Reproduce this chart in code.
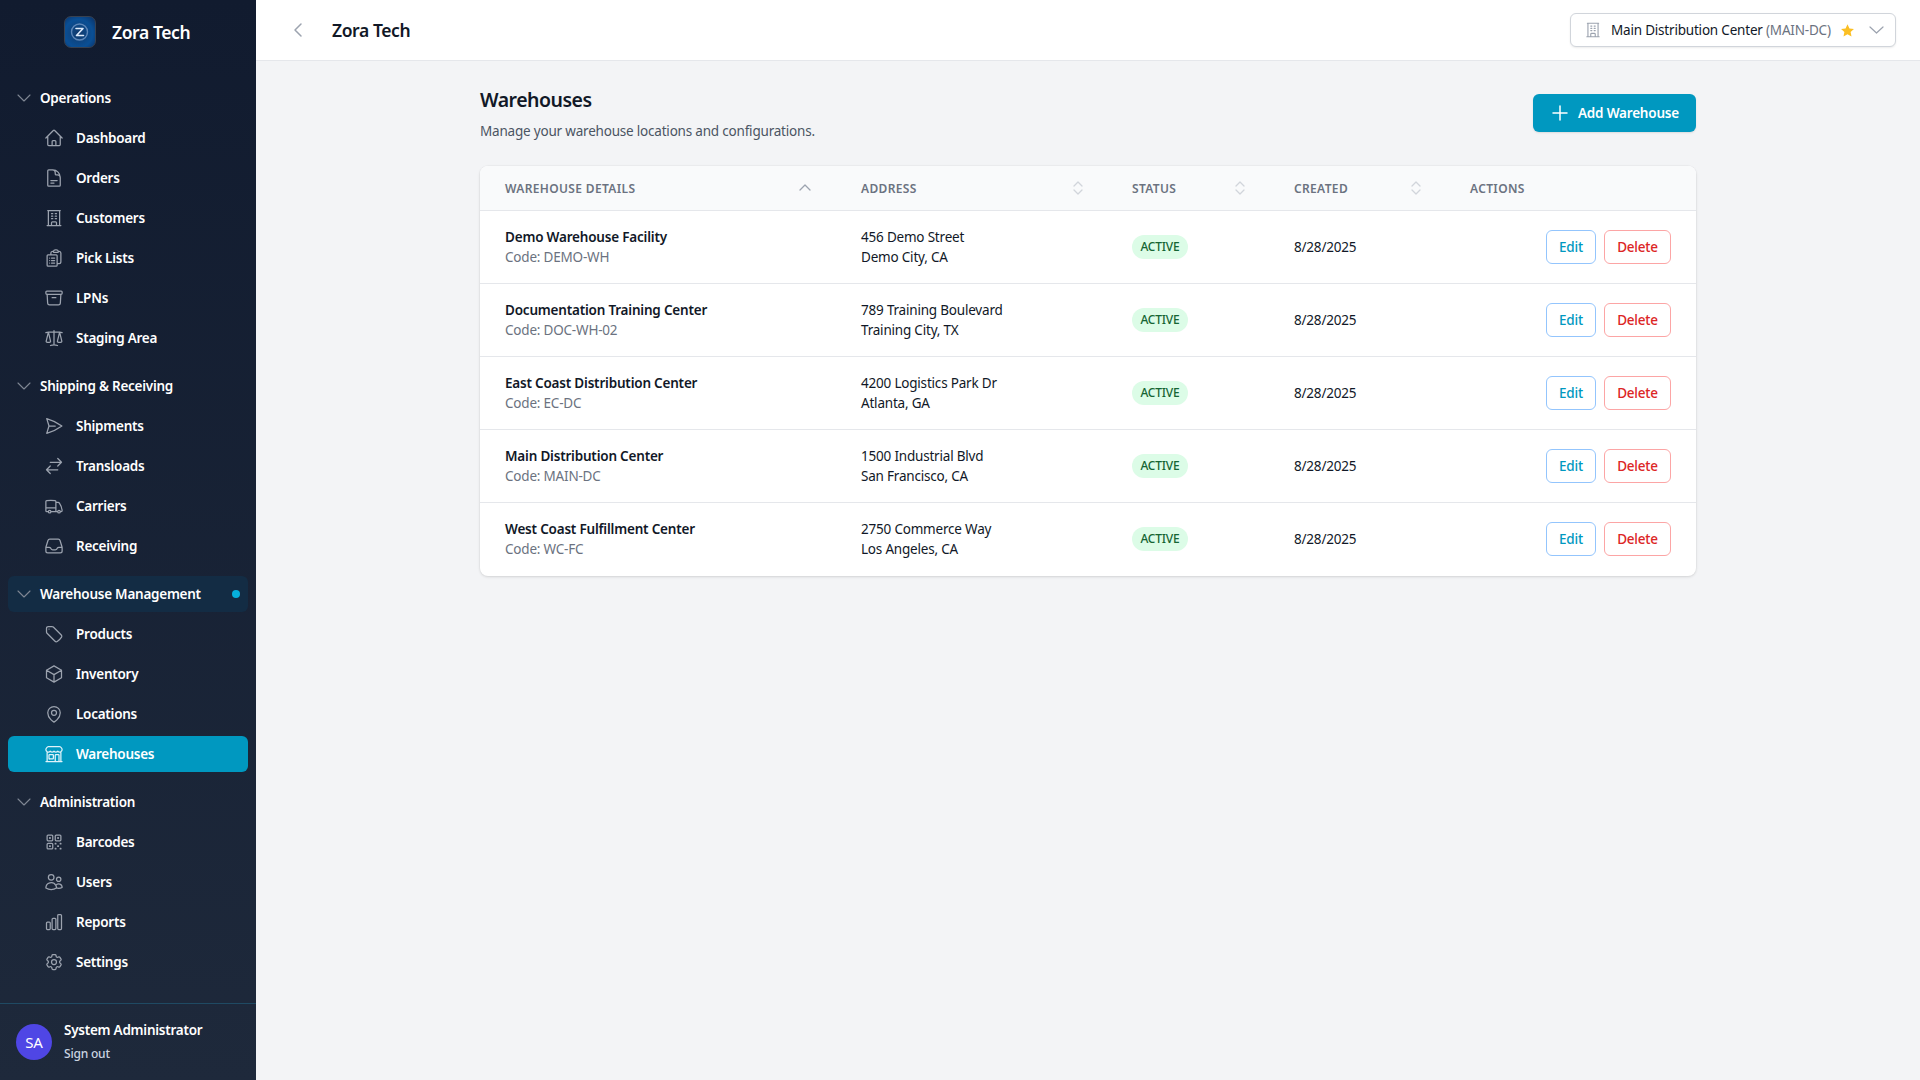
<!DOCTYPE html>
<html>
<head>
<meta charset="utf-8">
<title>Zora Tech</title>
<script src="https://cdn.jsdelivr.net/npm/chart.js@4"></script>
<style>
  * { box-sizing: border-box; }
  html, body { margin: 0; width: 1920px; height: 1080px; overflow: hidden; background: #f3f4f6; font-family: "Noto Sans", sans-serif; font-size: 13.5px; letter-spacing: -.2px; color: #111827; }
  svg { display: block; fill: none; stroke: currentColor; stroke-width: 1.5; stroke-linecap: round; stroke-linejoin: round; }

  /* ---- sidebar ---- */
  #side { position: absolute; left: 0; top: 0; width: 256px; height: 1080px; background: linear-gradient(180deg, #111b2f 0%, #1e293b 100%); color: #fff; }
  #logo { position: absolute; left: 64px; top: 16px; width: 32px; height: 32px; border-radius: 7px; border: 1.5px solid #374151; background: radial-gradient(circle at 45% 55%, #123a6c 0%, #0a4f95 60%, #0a2f63 100%); overflow: hidden; }
  #logo svg { width: 29px; height: 29px; }
  #brand { position: absolute; left: 112px; top: 19px; font-size: 17.5px; font-weight: 600; letter-spacing: -.4px; line-height: 26px; }
  #nav { position: absolute; left: 8px; top: 80px; width: 240px; }
  .sec { position: relative; height: 36px; line-height: 36px; padding-left: 32px; font-weight: 600; letter-spacing: -.25px; border-radius: 6px; margin-top: 12px; }
  .sec:first-child { margin-top: 0; }
  .sec.on { background: #132c44; }
  .sec svg { position: absolute; left: 9px; top: 13px; width: 14px; height: 10px; color: #7f8794; stroke-width: 1.1; }
  .sec i { position: absolute; right: 8px; top: 14px; width: 8px; height: 8px; border-radius: 50%; background: #06b0dc; }
  .item { position: relative; height: 36px; line-height: 36px; margin-top: 4px; padding-left: 68px; font-weight: 600; letter-spacing: -.25px; border-radius: 6px; }
  .item svg { position: absolute; left: 36px; top: 8px; width: 20px; height: 20px; color: #9ca3af; }
  .item.on { background: #0098c0; }
  .item.on svg { color: #dff3fa; }
  #userline { position: absolute; left: 0; top: 1003px; width: 256px; border-top: 1px solid #1f4a63; }
  #avatar { position: absolute; left: 16px; top: 1024px; width: 36px; height: 36px; border-radius: 50%; background: #4f46e5; text-align: center; line-height: 36px; font-size: 15px; }
  #uname { position: absolute; left: 64px; top: 1020px; font-weight: 600; letter-spacing: -.25px; line-height: 20px; }
  #signout { position: absolute; left: 64px; top: 1045px; font-size: 12px; font-weight: 500; line-height: 18px; color: #cbd5e1; }

  /* ---- top bar ---- */
  #top { position: absolute; left: 256px; top: 0; width: 1664px; height: 61px; background: #fff; border-bottom: 1px solid #e5e7eb; }
  #back { position: absolute; left: 35px; top: 22px; width: 14px; height: 16px; color: #9ca3af; }
  #crumb { position: absolute; left: 76px; top: 17px; font-size: 17.5px; font-weight: 600; letter-spacing: -.4px; line-height: 26px; }
  #picker { position: absolute; left: 1314px; top: 13px; width: 326px; height: 34px; background: #fff; border: 1px solid #d1d5db; border-radius: 6px; box-shadow: 0 1px 2px rgba(0,0,0,.08); line-height: 32px; }
  #picker svg.b { position: absolute; left: 13px; top: 7px; width: 18px; height: 18px; color: #9ca3af; }
  #picker span { position: absolute; left: 40px; top: 0; white-space: nowrap; }
  #picker span em { font-style: normal; color: #6b7280; }
  #picker svg.s { position: absolute; left: 269px; top: 9px; width: 15px; height: 15px; fill: #fbbf24; stroke: none; }
  #picker svg.c { position: absolute; left: 298px; top: 11px; width: 15px; height: 10px; color: #9ca3af; stroke-width: 1.2; }

  /* ---- page head ---- */
  #h1 { position: absolute; left: 480px; top: 86px; font-size: 19.5px; font-weight: 600; letter-spacing: -.5px; line-height: 28px; }
  #sub { position: absolute; left: 480px; top: 121px; line-height: 20px; color: #4b5563; }
  #add { position: absolute; left: 1533px; top: 94px; width: 163px; height: 38px; border-radius: 6px; background: #0098c0; color: #fff; font-weight: 600; line-height: 38px; box-shadow: 0 1px 2px rgba(0,0,0,.1); }
  #add svg { position: absolute; left: 19px; top: 11px; width: 16px; height: 16px; stroke-width: 1.5; }
  #add span { position: absolute; left: 45px; top: 0; white-space: nowrap; }

  /* ---- table ---- */
  #card { position: absolute; left: 480px; top: 166px; width: 1216px; height: 410px; background: #fff; border-radius: 8px; box-shadow: 0 1px 3px rgba(0,0,0,.12), 0 0 0 1px rgba(0,0,0,.02); overflow: hidden; }
  #head { position: absolute; left: 0; top: 0; width: 100%; height: 45px; background: #f9fafb; border-bottom: 1px solid #e5e7eb; }
  .th { position: absolute; top: 1px; line-height: 44px; font-size: 12px; font-weight: 600; letter-spacing: .35px; color: #6b7280; white-space: nowrap; }
  .sort { position: absolute; top: 14px; width: 12px; height: 16px; color: #d1d5db; stroke-width: 1.3; }
  .row { position: absolute; left: 0; width: 100%; height: 73px; border-bottom: 1px solid #e5e7eb; }
  .row:last-child { border-bottom: none; }
  .cell { position: absolute; white-space: nowrap; line-height: 20px; }
  .name { font-weight: 600; }
  .code { color: #6b7280; }
  .badge { position: absolute; left: 652px; top: 24px; width: 56px; height: 24px; border-radius: 12px; background: #dcfce7; color: #166534; font-size: 12px; font-weight: 500; text-align: center; line-height: 24px; }
  .btn { position: absolute; top: 19px; height: 34px; border-radius: 6px; background: #fff; border: 1px solid; text-align: center; line-height: 32px; font-weight: 500; }
  .edit { left: 1066px; width: 50px; border-color: #93c5fd; color: #0098c0; }
  .del { left: 1124px; width: 67px; border-color: #fca5a5; color: #dc2626; }
</style>
</head>
<body>
<div id="side">
  <div id="logo"><svg viewBox="0 0 29 29"><circle cx="14.5" cy="15" r="8" stroke="#5d86b8" stroke-width="1.4"/><path d="M11 11.5h7l-6.5 7h7" stroke="#dbe9fb" stroke-width="1.6"/></svg></div>
  <div id="brand"></div>
  <div id="nav"></div>
  <div id="userline"></div>
  <div id="avatar"></div>
  <div id="uname"></div>
  <div id="signout"></div>
</div>
<div id="top">
  <svg id="back" viewBox="0 0 14 16"><path d="M10 2L4 8l6 6"/></svg>
  <div id="crumb"></div>
  <div id="picker"></div>
</div>
<div id="h1"></div>
<div id="sub"></div>
<div id="add"></div>
<div id="card"><div id="head"></div></div>

<script>
// ===== TEXT CONTENT =====
const brand = 'Zora Tech';
const pageTitle = 'Warehouses';
const pageSub = 'Manage your warehouse locations and configurations.';
const addLabel = 'Add Warehouse';
const currentSite = 'Main Distribution Center';
const currentCode = '(MAIN-DC)';

const userName = 'System Administrator';
const userInitials = 'SA';
const signOut = 'Sign out';

const sectionNames = ['Operations', 'Shipping & Receiving', 'Warehouse Management', 'Administration'];
const sectionItems = [
  ['Dashboard', 'Orders', 'Customers', 'Pick Lists', 'LPNs', 'Staging Area'],
  ['Shipments', 'Transloads', 'Carriers', 'Receiving'],
  ['Products', 'Inventory', 'Locations', 'Warehouses'],
  ['Barcodes', 'Users', 'Reports', 'Settings'],
];

const columnNames = ['WAREHOUSE DETAILS', 'ADDRESS', 'STATUS', 'CREATED', 'ACTIONS'];
const columnLeft = [25, 381, 652, 814, 990];
const sortLeft = [319, 592, 754, 930];

const warehouseNames = ['Demo Warehouse Facility', 'Documentation Training Center', 'East Coast Distribution Center', 'Main Distribution Center', 'West Coast Fulfillment Center'];
const warehouseCodes = ['DEMO-WH', 'DOC-WH-02', 'EC-DC', 'MAIN-DC', 'WC-FC'];
const streetLines = ['456 Demo Street', '789 Training Boulevard', '4200 Logistics Park Dr', '1500 Industrial Blvd', '2750 Commerce Way'];
const cityLines = ['Demo City, CA', 'Training City, TX', 'Atlanta, GA', 'San Francisco, CA', 'Los Angeles, CA'];
const createdDates = ['8/28/2025', '8/28/2025', '8/28/2025', '8/28/2025', '8/28/2025'];
const statusLabels = ['ACTIVE', 'ACTIVE', 'ACTIVE', 'ACTIVE', 'ACTIVE'];

// ===== ICONS =====
const ICONS = {
  Dashboard: 'M2.25 12l8.954-8.955c.44-.439 1.152-.439 1.591 0L21.75 12M4.5 9.75v10.125c0 .621.504 1.125 1.125 1.125H9.75v-4.875c0-.621.504-1.125 1.125-1.125h2.25c.621 0 1.125.504 1.125 1.125V21h4.125c.621 0 1.125-.504 1.125-1.125V9.75M8.25 21h8.25',
  Orders: 'M19.5 14.25v-2.625a3.375 3.375 0 00-3.375-3.375h-1.5A1.125 1.125 0 0113.5 7.125v-1.5a3.375 3.375 0 00-3.375-3.375H8.25m0 12.75h7.5m-7.5 3H12M10.5 2.25H5.625c-.621 0-1.125.504-1.125 1.125v17.25c0 .621.504 1.125 1.125 1.125h12.75c.621 0 1.125-.504 1.125-1.125V11.25a9 9 0 00-9-9z',
  Customers: 'M3.75 21h16.5M4.5 3h15M5.25 3v18m13.5-18v18M9 6.75h1.5m-1.5 3h1.5m-1.5 3h1.5m3-6H15m-1.5 3H15m-1.5 3H15M9 21v-3.375c0-.621.504-1.125 1.125-1.125h3.75c.621 0 1.125.504 1.125 1.125V21',
  'Pick Lists': 'M9 12h3.75M9 15h3.75M9 18h3.75m3 .75H18a2.25 2.25 0 002.25-2.25V6.108c0-1.135-.845-2.098-1.976-2.192a48.424 48.424 0 00-1.123-.08m-5.801 0c-.065.21-.1.433-.1.664 0 .414.336.75.75.75h4.5a.75.75 0 00.75-.75 2.25 2.25 0 00-.1-.664m-5.8 0A2.251 2.251 0 0113.5 2.25H15c1.012 0 1.867.668 2.15 1.586m-5.8 0c-.376.023-.75.05-1.124.08C9.095 4.01 8.25 4.973 8.25 6.108V8.25m0 0H4.875c-.621 0-1.125.504-1.125 1.125v11.25c0 .621.504 1.125 1.125 1.125h9.75c.621 0 1.125-.504 1.125-1.125V9.375c0-.621-.504-1.125-1.125-1.125H8.25zM6.75 12h.008v.008H6.75V12zm0 3h.008v.008H6.75V15zm0 3h.008v.008H6.75V18z',
  LPNs: 'M20.25 7.5l-.625 10.632a2.25 2.25 0 01-2.247 2.118H6.622a2.25 2.25 0 01-2.247-2.118L3.75 7.5m6 4.125h4.5M3.375 7.5h17.25c.621 0 1.125-.504 1.125-1.125v-1.5c0-.621-.504-1.125-1.125-1.125H3.375c-.621 0-1.125.504-1.125 1.125v1.5c0 .621.504 1.125 1.125 1.125z',
  'Staging Area': 'M12 3v17.25m0 0c-1.472 0-2.882.265-4.185.75M12 20.25c1.472 0 2.882.265 4.185.75M18.75 4.97A48.416 48.416 0 0012 4.5c-2.291 0-4.545.16-6.75.47m13.5 0c1.01.143 2.01.317 3 .52m-3-.52l2.62 10.726c.122.499-.106 1.028-.589 1.202a5.988 5.988 0 01-2.031.352 5.988 5.988 0 01-2.031-.352c-.483-.174-.711-.703-.59-1.202L18.75 4.971zm-16.5.52c.99-.203 1.99-.377 3-.52m0 0l2.62 10.726c.122.499-.106 1.028-.589 1.202a5.989 5.989 0 01-2.031.352 5.989 5.989 0 01-2.031-.352c-.483-.174-.711-.703-.59-1.202L5.25 4.971z',
  Shipments: 'M6 12L3.269 3.126A59.768 59.768 0 0121.485 12 59.77 59.77 0 013.27 20.876L5.999 12zm0 0h7.5',
  Transloads: 'M7.5 21L3 16.5m0 0L7.5 12M3 16.5h13.5m0-13.5L21 7.5m0 0L16.5 12M21 7.5H7.5',
  Carriers: 'M8.25 18.75a1.5 1.5 0 01-3 0m3 0a1.5 1.5 0 00-3 0m3 0h6m-9 0H3.375a1.125 1.125 0 01-1.125-1.125V14.25m17.25 4.5a1.5 1.5 0 01-3 0m3 0a1.5 1.5 0 00-3 0m3 0h1.125c.621 0 1.129-.504 1.09-1.124a17.902 17.902 0 00-3.213-9.193 2.056 2.056 0 00-1.58-.86H14.25M16.5 18.75h-2.25m0-11.177v-.958c0-.568-.422-1.048-.987-1.106a48.554 48.554 0 00-10.026 0 1.106 1.106 0 00-.987 1.106v7.635m12-6.677v6.677m0 4.5v-4.5m0 0h-12',
  Receiving: 'M2.25 13.5h3.86a2.25 2.25 0 012.012 1.244l.256.512a2.25 2.25 0 002.013 1.244h3.218a2.25 2.25 0 002.013-1.244l.256-.512a2.25 2.25 0 012.013-1.244h3.859m-19.5.338V18a2.25 2.25 0 002.25 2.25h15A2.25 2.25 0 0021.75 18v-4.162c0-.224-.034-.447-.1-.661L19.24 5.338a2.25 2.25 0 00-2.15-1.588H6.911a2.25 2.25 0 00-2.15 1.588L2.35 13.177a2.25 2.25 0 00-.1.661z',
  Products: 'M9.568 3H5.25A2.25 2.25 0 003 5.25v4.318c0 .597.237 1.17.659 1.591l9.581 9.581c.699.699 1.78.872 2.607.33a18.095 18.095 0 005.223-5.223c.542-.827.369-1.908-.33-2.607L11.16 3.66A2.25 2.25 0 009.568 3zM6 6h.008v.008H6V6z',
  Inventory: 'M21 7.5l-9-5.25L3 7.5m18 0l-9 5.25m9-5.25v9l-9 5.25M3 7.5l9 5.25M3 7.5v9l9 5.25m0-9v9',
  Locations: 'M15 10.5a3 3 0 11-6 0 3 3 0 016 0zM19.5 10.5c0 7.142-7.5 11.25-7.5 11.25S4.5 17.642 4.5 10.5a7.5 7.5 0 1115 0z',
  Warehouses: 'M13.5 21v-7.5a.75.75 0 01.75-.75h3a.75.75 0 01.75.75V21m-4.5 0H2.36m11.14 0H18m0 0h3.64m-1.39 0V9.349m-16.5 11.65V9.35m0 0a3.001 3.001 0 003.75-.615A2.993 2.993 0 009.75 9.75c.896 0 1.7-.393 2.25-1.016a2.993 2.993 0 002.25 1.016c.896 0 1.7-.393 2.25-1.016a3.001 3.001 0 003.75.614m-16.5 0a3.004 3.004 0 01-.621-4.72L4.318 3.44A1.5 1.5 0 015.378 3h13.243a1.5 1.5 0 011.06.44l1.19 1.189a3 3 0 01-.621 4.72m-13.5 8.65h3.75a.75.75 0 00.75-.75V13.5a.75.75 0 00-.75-.75H6.75a.75.75 0 00-.75.75v3.75c0 .415.336.75.75.75z',
  Barcodes: 'M3.75 4.875c0-.621.504-1.125 1.125-1.125h4.5c.621 0 1.125.504 1.125 1.125v4.5c0 .621-.504 1.125-1.125 1.125h-4.5A1.125 1.125 0 013.75 9.375v-4.5zM3.75 14.625c0-.621.504-1.125 1.125-1.125h4.5c.621 0 1.125.504 1.125 1.125v4.5c0 .621-.504 1.125-1.125 1.125h-4.5a1.125 1.125 0 01-1.125-1.125v-4.5zM13.5 4.875c0-.621.504-1.125 1.125-1.125h4.5c.621 0 1.125.504 1.125 1.125v4.5c0 .621-.504 1.125-1.125 1.125h-4.5A1.125 1.125 0 0113.5 9.375v-4.5zM6.75 6.75h.75v.75h-.75v-.75zM6.75 16.5h.75v.75h-.75v-.75zM16.5 6.75h.75v.75h-.75v-.75zM13.5 13.5h.75v.75h-.75v-.75zM13.5 19.5h.75v.75h-.75v-.75zM19.5 13.5h.75v.75h-.75v-.75zM19.5 19.5h.75v.75h-.75v-.75zM16.5 16.5h.75v.75h-.75v-.75z',
  Users: 'M15 19.128a9.38 9.38 0 002.625.372 9.337 9.337 0 004.121-.952 4.125 4.125 0 00-7.533-2.493M15 19.128v-.003c0-1.113-.285-2.16-.786-3.07M15 19.128v.106A12.318 12.318 0 018.624 21c-2.331 0-4.512-.645-6.374-1.766l-.001-.109a6.375 6.375 0 0111.964-3.07M12 6.375a3.375 3.375 0 11-6.75 0 3.375 3.375 0 016.75 0zm8.25 2.25a2.625 2.625 0 11-5.25 0 2.625 2.625 0 015.25 0z',
  Reports: 'M3 13.125C3 12.504 3.504 12 4.125 12h2.25c.621 0 1.125.504 1.125 1.125v6.75C7.5 20.496 6.996 21 6.375 21h-2.25A1.125 1.125 0 013 19.875v-6.75zM9.75 8.625c0-.621.504-1.125 1.125-1.125h2.25c.621 0 1.125.504 1.125 1.125v11.25c0 .621-.504 1.125-1.125 1.125h-2.25a1.125 1.125 0 01-1.125-1.125V8.625zM16.5 4.125c0-.621.504-1.125 1.125-1.125h2.25C20.496 3 21 3.504 21 4.125v15.75c0 .621-.504 1.125-1.125 1.125h-2.25a1.125 1.125 0 01-1.125-1.125V4.125z',
  Settings: 'M9.594 3.94c.09-.542.56-.94 1.11-.94h2.593c.55 0 1.02.398 1.11.94l.213 1.281c.063.374.313.686.645.87.074.04.147.083.22.127.324.196.72.257 1.075.124l1.217-.456a1.125 1.125 0 011.37.49l1.296 2.247a1.125 1.125 0 01-.26 1.431l-1.003.827c-.293.24-.438.613-.431.992a6.759 6.759 0 010 .255c-.007.378.138.75.43.99l1.005.828c.424.35.534.954.26 1.43l-1.298 2.247a1.125 1.125 0 01-1.369.491l-1.217-.456c-.355-.133-.75-.072-1.076.124a6.57 6.57 0 01-.22.128c-.331.183-.581.495-.644.869l-.213 1.28c-.09.543-.56.941-1.11.941h-2.594c-.55 0-1.02-.398-1.11-.94l-.213-1.281c-.062-.374-.312-.686-.644-.87a6.52 6.52 0 01-.22-.127c-.325-.196-.72-.257-1.076-.124l-1.217.456a1.125 1.125 0 01-1.369-.49l-1.297-2.247a1.125 1.125 0 01.26-1.431l1.004-.827c.292-.24.437-.613.43-.992a6.932 6.932 0 010-.255c.007-.378-.138-.75-.43-.99l-1.004-.828a1.125 1.125 0 01-.26-1.43l1.297-2.247a1.125 1.125 0 011.37-.491l1.216.456c.356.133.751.072 1.076-.124.072-.044.146-.087.22-.128.332-.183.582-.495.644-.869l.214-1.281zM15 12a3 3 0 11-6 0 3 3 0 016 0z',
};

function icon(d, cls = '') {
  return `<svg class="${cls}" viewBox="0 0 24 24"><path d="${d}"/></svg>`;
}

const byId = id => document.getElementById(id);

// ===== SIDEBAR =====
byId('brand').textContent = brand;
byId('crumb').textContent = brand;
byId('avatar').textContent = userInitials;
byId('uname').textContent = userName;
byId('signout').textContent = signOut;

byId('nav').innerHTML = sectionNames.map((name, i) => {
  const on = name === 'Warehouse Management';
  const chevron = '<svg viewBox="0 0 14 10"><path d="M1 2l6 6 6-6"/></svg>';
  const head = `<div class="sec${on ? ' on' : ''}">${chevron}${name.replace('&', '&amp;')}${on ? '<i></i>' : ''}</div>`;
  const items = sectionItems[i].map(label =>
    `<div class="item${label === pageTitle ? ' on' : ''}">${icon(ICONS[label])}${label}</div>`
  ).join('');
  return head + items;
}).join('');

// ===== TOP BAR + PAGE HEAD =====
byId('picker').innerHTML =
  icon(ICONS.Customers, 'b') +
  `<span>${currentSite} <em>${currentCode}</em></span>` +
  '<svg class="s" viewBox="0 0 24 24"><path d="M12 2l3.1 6.6 7.2.9-5.3 5 1.4 7.1L12 18.1 5.6 21.6 7 14.5l-5.3-5 7.2-.9z"/></svg>' +
  '<svg class="c" viewBox="0 0 15 10"><path d="M1 2l6.5 6L14 2"/></svg>';

byId('h1').textContent = pageTitle;
byId('sub').textContent = pageSub;
byId('add').innerHTML = `<svg viewBox="0 0 16 16"><path d="M8 1v14M1 8h14"/></svg><span>${addLabel}</span>`;

// ===== TABLE =====
byId('head').innerHTML = columnNames.map((c, i) =>
  `<div class="th" style="left:${columnLeft[i]}px">${c}</div>`
).join('') + sortLeft.map((x, i) => {
  const up = i === 0;
  const path = up ? 'M1 10l5-5 5 5' : 'M2 6l4-4 4 4M2 10l4 4 4-4';
  return `<svg class="sort" style="left:${x}px;${up ? 'color:#9ca3af' : ''}" viewBox="0 0 12 16"><path d="${path}"/></svg>`;
}).join('');

byId('card').insertAdjacentHTML('beforeend', warehouseNames.map((name, i) => `
  <div class="row" style="top:${45 + i * 73}px">
    <div class="cell name" style="left:25px;top:16px">${name}</div>
    <div class="cell code" style="left:25px;top:36px">Code: ${warehouseCodes[i]}</div>
    <div class="cell" style="left:381px;top:16px">${streetLines[i]}</div>
    <div class="cell" style="left:381px;top:36px">${cityLines[i]}</div>
    <div class="badge">${statusLabels[i]}</div>
    <div class="cell" style="left:814px;top:26px">${createdDates[i]}</div>
    <div class="btn edit">Edit</div>
    <div class="btn del">Delete</div>
  </div>`).join(''));
</script>
</body>
</html>
